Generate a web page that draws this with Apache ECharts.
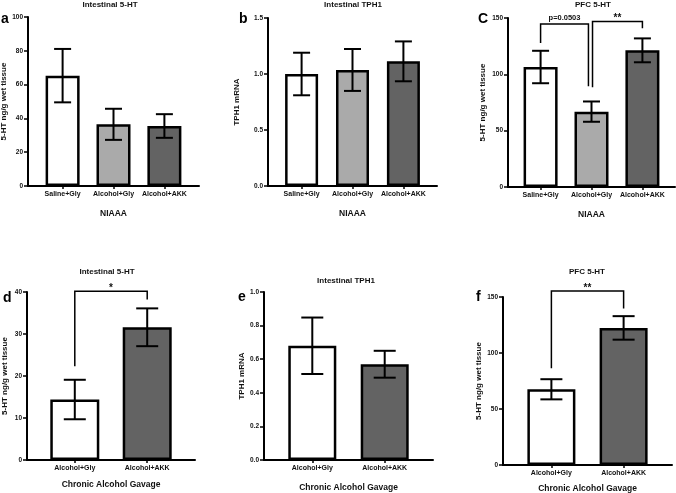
<!DOCTYPE html>
<html><head><meta charset="utf-8">
<script src="https://cdn.jsdelivr.net/npm/echarts@6/dist/echarts.min.js"></script>
<style>html,body{margin:0;padding:0;background:#fff}#c{width:676px;height:493px}</style>
</head><body><div id="c"></div>
<script>
const catsTop = ['Saline+Gly', 'Alcohol+Gly', 'Alcohol+AKK'];
const catsBottom = ['Alcohol+Gly', 'Alcohol+AKK'];
const colorsTop = ['#ffffff', '#aaaaaa', '#636363'];
const colorsBottom = ['#ffffff', '#636363'];

const aMean = [65.3, 36.5, 35.5];  const aErr = [15.8, 9.2, 7.0];
const bMean = [1.0, 1.036, 1.113]; const bErr = [0.19, 0.187, 0.178];
const cMean = [106.5, 66.9, 121.3]; const cErr = [14.4, 9.0, 10.6];
const dMean = [14.4, 31.6]; const dErr = [4.7, 4.5];
const eMean = [0.68, 0.57]; const eErr = [0.168, 0.08];
const fMean = [67.6, 122.4]; const fErr = [9.0, 10.5];

// brackets: [xStart, xEnd, leftFoot, top, rightFoot, text]
const cBrackets = [[0, 0.94, 127.8, 144.7, 89.4, 'p=0.0503'], [1.02, 2, 88.5, 147, 140.9, '**']];
const dBrackets = [[0, 1, 22.3, 40.2, 38.2, '*']];
const fBrackets = [[0, 1, 86.3, 155.3, 139.7, '**']];

const FONT = '"Liberation Sans", Arial, sans-serif';

const panels = [
  {grid:{left:28,top:17,width:171,height:169}, cats:catsTop, colors:colorsTop, mean:aMean, err:aErr, ymax:100, step:20, dec:0, bw:34, cap:17, pad:0.68,
   title:'Intestinal 5-HT', tx:110, ty:1, xname:'NIAAA', xgap:23, yname:'5-HT ng/g wet tissue', ygap:19, letter:'a', lx:1, ly:12, brackets:[]},
  {grid:{left:268,top:18,width:169,height:168}, cats:catsTop, colors:colorsTop, mean:bMean, err:bErr, ymax:1.5, step:0.5, dec:1, bw:33, cap:17, pad:0.66,
   title:'Intestinal TPH1', tx:353, ty:1, xname:'NIAAA', xgap:23, yname:'TPH1 mRNA', ygap:27, letter:'b', lx:239, ly:12, brackets:[]},
  {grid:{left:508,top:18,width:167,height:169}, cats:catsTop, colors:colorsTop, mean:cMean, err:cErr, ymax:150, step:50, dec:0, bw:34, cap:17, pad:0.64,
   title:'PFC 5-HT', tx:593, ty:1, xname:'NIAAA', xgap:23, yname:'5-HT ng/g wet tissue', ygap:21, letter:'C', lx:478, ly:12, brackets:cBrackets},
  {grid:{left:27,top:292,width:168,height:168}, cats:catsBottom, colors:colorsBottom, mean:dMean, err:dErr, ymax:40, step:10, dec:0, bw:49, cap:22, pad:0.66,
   title:'Intestinal 5-HT', tx:107, ty:268, xname:'Chronic Alcohol Gavage', xgap:20, yname:'5-HT ng/g wet tissue', ygap:18, letter:'d', lx:3, ly:291, brackets:dBrackets},
  {grid:{left:264,top:292,width:169,height:168}, cats:catsBottom, colors:colorsBottom, mean:eMean, err:eErr, ymax:1.0, step:0.2, dec:1, bw:48, cap:22, pad:0.667,
   title:'Intestinal TPH1', tx:346, ty:277, xname:'Chronic Alcohol Gavage', xgap:23, yname:'TPH1 mRNA', ygap:16, letter:'e', lx:238, ly:290, brackets:[]},
  {grid:{left:503,top:297,width:169,height:168}, cats:catsBottom, colors:colorsBottom, mean:fMean, err:fErr, ymax:150, step:50, dec:0, bw:48, cap:22, pad:0.67,
   title:'PFC 5-HT', tx:587, ty:268, xname:'Chronic Alcohol Gavage', xgap:19, yname:'5-HT ng/g wet tissue', ygap:17, letter:'f', lx:476, ly:290, brackets:fBrackets}
];

const grid = [], xAxis = [], yAxis = [], series = [], title = [], graphic = [];
panels.forEach((p, i) => {
  const n = p.cats.length;
  const idx = p.cats.map((_, k) => k);
  grid.push(Object.assign({containLabel:false, outerBoundsMode:'none'}, p.grid));
  xAxis.push({
    type:'value', gridIndex:i, min:-p.pad, max:n - 1 + p.pad,
    name:p.xname, nameLocation:'middle', nameGap:p.xgap,
    nameTextStyle:{fontFamily:FONT, fontWeight:'bold', fontSize:8.5, color:'#111'},
    axisLine:{show:true, onZero:false, lineStyle:{color:'#000', width:2}},
    axisTick:{show:true, length:3, customValues:idx, lineStyle:{color:'#000', width:1.5}},
    axisLabel:{customValues:idx, formatter:v => p.cats[Math.round(v)] || '', margin:5,
      fontFamily:FONT, fontWeight:'bold', fontSize:7, color:'#111'},
    splitLine:{show:false}
  });
  yAxis.push({
    type:'value', gridIndex:i, min:0, max:p.ymax, interval:p.step,
    name:p.yname, nameLocation:'middle', nameGap:p.ygap, nameRotate:90,
    nameTextStyle:{fontFamily:FONT, fontWeight:'bold', fontSize:8, color:'#111'},
    axisLine:{show:true, onZero:false, lineStyle:{color:'#000', width:2}},
    axisTick:{show:true, length:4, lineStyle:{color:'#000', width:1.5}},
    axisLabel:{margin:5, formatter:v => v.toFixed(p.dec), fontFamily:FONT, fontWeight:'bold', fontSize:6.5, color:'#111'},
    splitLine:{show:false}
  });
  series.push({
    type:'bar', xAxisIndex:i, yAxisIndex:i, barWidth:p.bw,
    data:p.mean.map((m, k) => ({value:[k, m], itemStyle:{color:p.colors[k], borderColor:'#000', borderWidth:2.5}})),
    z:2
  });
  series.push({
    type:'custom', xAxisIndex:i, yAxisIndex:i, z:5,
    data:p.mean.map((m, k) => [k, m, p.err[k]]),
    renderItem:(params, api) => {
      const x = api.value(0), m = api.value(1), e = api.value(2);
      const hi = api.coord([x, m + e]), lo = api.coord([x, m - e]);
      const h = p.cap / 2;
      const st = {stroke:'#000', lineWidth:2};
      return {type:'group', children:[
        {type:'line', shape:{x1:hi[0], y1:hi[1], x2:lo[0], y2:lo[1]}, style:st},
        {type:'line', shape:{x1:hi[0]-h, y1:hi[1], x2:hi[0]+h, y2:hi[1]}, style:st},
        {type:'line', shape:{x1:lo[0]-h, y1:lo[1], x2:lo[0]+h, y2:lo[1]}, style:st}
      ]};
    }
  });
  if (p.brackets.length) {
    series.push({
      type:'custom', xAxisIndex:i, yAxisIndex:i, z:6, clip:false,
      data:p.brackets.map(b => b.slice(0, 5)),
      renderItem:(params, api) => {
        const b = p.brackets[params.dataIndex];
        const p1 = api.coord([api.value(0), api.value(2)]);
        const p2 = api.coord([api.value(0), api.value(3)]);
        const p3 = api.coord([api.value(1), api.value(3)]);
        const p4 = api.coord([api.value(1), api.value(4)]);
        const isP = b[5] === 'p=0.0503';
        return {type:'group', children:[
          {type:'polyline', shape:{points:[p1, p2, p3, p4]}, style:{stroke:'#000', lineWidth:1.5, fill:null}},
          {type:'text', x:(p2[0] + p3[0]) / 2, y:p2[1] + (isP ? -2 : 2),
           style:{text:b[5], textAlign:'center', textVerticalAlign:'bottom', fontFamily:FONT, fontWeight:'bold',
                  fontSize:isP ? 7.5 : 10, fill:'#111'}}
        ]};
      }
    });
  }
  title.push({text:p.title, left:p.tx, top:p.ty, textAlign:'center', padding:0,
    textStyle:{fontFamily:FONT, fontWeight:'bold', fontSize:8, color:'#111'}});
  graphic.push({type:'text', left:p.lx, top:p.ly,
    style:{text:p.letter, fontFamily:FONT, fontWeight:'bold', fontSize:14, fill:'#000'}});
});

const chart = echarts.init(document.getElementById('c'), null, {renderer:'canvas'});
chart.setOption({backgroundColor:'#fff', animation:false, title, grid, xAxis, yAxis, series, graphic});
</script></body></html>
